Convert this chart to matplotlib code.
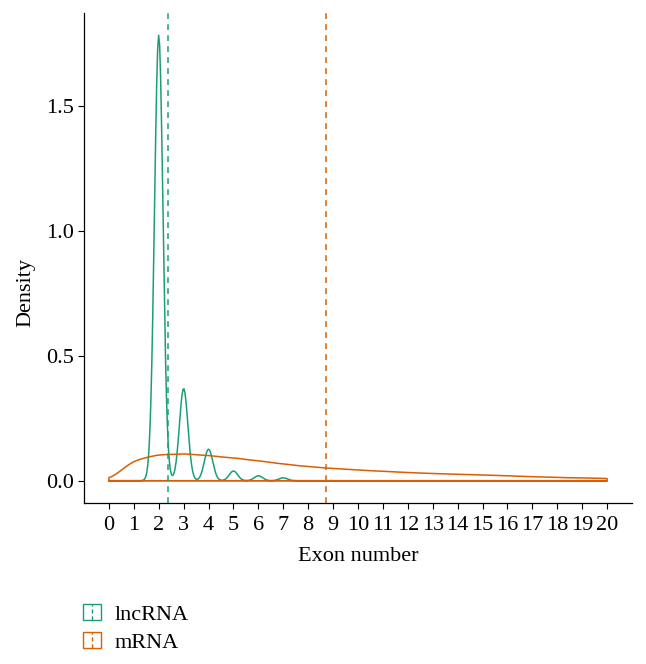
import numpy as np
import matplotlib
matplotlib.use("Agg")
import matplotlib.pyplot as plt
from matplotlib.legend_handler import HandlerBase
from matplotlib.patches import Rectangle
from matplotlib.lines import Line2D


# =========================================
# Data
# =========================================

groups = ["lncRNA", "mRNA"]

colors = ["#1b9e77", "#d95f02"]

# share of transcripts per exon number
lnc_exons = [2, 3, 4, 5, 6, 7]
lnc_share = [0.763, 0.158, 0.054, 0.0166, 0.0085, 0.005]

mrna_exons = [1, 2, 3, 4, 5, 6, 7, 8, 9, 10,
              11, 12, 13, 14, 15, 16, 17, 18, 19, 20]
mrna_share = [0.085, 0.105, 0.109, 0.101, 0.092, 0.080, 0.067, 0.057, 0.049, 0.043,
              0.038, 0.033, 0.029, 0.026, 0.023, 0.020, 0.016, 0.013, 0.011, 0.010]

# kernel bandwidth per group
bandwidths = [0.17, 0.55]

# mean exon number (dashed lines)
mean_exons = [2.39, 8.73]

x_ticks = list(range(0, 21))
y_ticks = [0.0, 0.5, 1.0, 1.5]
y_tick_labels = ["0.0", "0.5", "1.0", "1.5"]


# =========================================
# Density (weighted gaussian kernel)
# =========================================

grid = np.linspace(0, 20, 512)


def density(exons, share, bw):
    exons = np.asarray(exons, float)
    w = np.asarray(share, float)
    w = w / w.sum()
    z = (grid[:, None] - exons[None, :]) / bw
    k = np.exp(-0.5 * z ** 2) / (bw * np.sqrt(2 * np.pi))
    return (k * w[None, :]).sum(axis=1)


curves = [
    density(lnc_exons, lnc_share, bandwidths[0]),
    density(mrna_exons, mrna_share, bandwidths[1]),
]


# =========================================
# Plot
# =========================================

plt.rcParams["font.family"] = ["Liberation Serif", "DejaVu Serif"]
plt.rcParams["font.size"] = 16

fig = plt.figure(figsize=(6.46, 6.64), dpi=100)

ax = fig.add_axes([84 / 646, 1 - 503 / 664, 548 / 646, 490 / 664])

lw = 1.1

for name, col, y in zip(groups, colors, curves):
    xs = np.concatenate([[grid[0]], grid, [grid[-1], grid[0]]])
    ys = np.concatenate([[0], y, [0, 0]])
    ax.plot(xs, ys, color=col, lw=lw, solid_joinstyle="round", label=name)

for col, m in zip(colors, mean_exons):
    ax.axvline(m, color=col, lw=lw, linestyle=(0, (3.8, 3.4)))


# =========================================
# Axes
# =========================================

top = max(c.max() for c in curves)
ax.set_ylim(-0.05 * top, 1.05 * top)
ax.set_xlim(-1, 21)

ax.set_xticks(x_ticks)
ax.set_yticks(y_ticks)
ax.set_yticklabels(y_tick_labels)

for s in ["top", "right"]:
    ax.spines[s].set_visible(False)

for s in ["left", "bottom"]:
    ax.spines[s].set_linewidth(0.9)

ax.tick_params(length=4, width=0.8, colors="black")
ax.tick_params(axis="x", pad=5)
ax.tick_params(axis="y", pad=3)

ax.set_xlabel("Exon number", labelpad=9)
ax.set_ylabel("Density")
ax.yaxis.set_label_coords(-0.088, 0.43)


# =========================================
# Legend
# =========================================

class KeyHandler(HandlerBase):

    def create_artists(self, legend, orig_handle, xdescent, ydescent,
                       width, height, fontsize, trans):
        col = orig_handle.get_color()
        box = Rectangle((-xdescent, -ydescent), width, height, fill=False,
                        edgecolor=col, lw=1.0, transform=trans)
        xm = -xdescent + width / 2
        tick = Line2D([xm, xm], [-ydescent, height - ydescent], color=col,
                      lw=1.0, linestyle=(0, (3, 2)), transform=trans)
        return [box, tick]


handles = [Line2D([], [], color=c) for c in colors]

fig.legend(
    handles, groups,
    handler_map={Line2D: KeyHandler()},
    loc="upper left",
    bbox_to_anchor=(72 / 646, 1 - 593 / 664),
    frameon=False,
    handlelength=0.8,
    handleheight=0.75,
    handletextpad=0.6,
    labelspacing=0.3,
    borderpad=0,
)


# =========================================
# Save
# =========================================

fig.savefig("out.png", dpi=100)
